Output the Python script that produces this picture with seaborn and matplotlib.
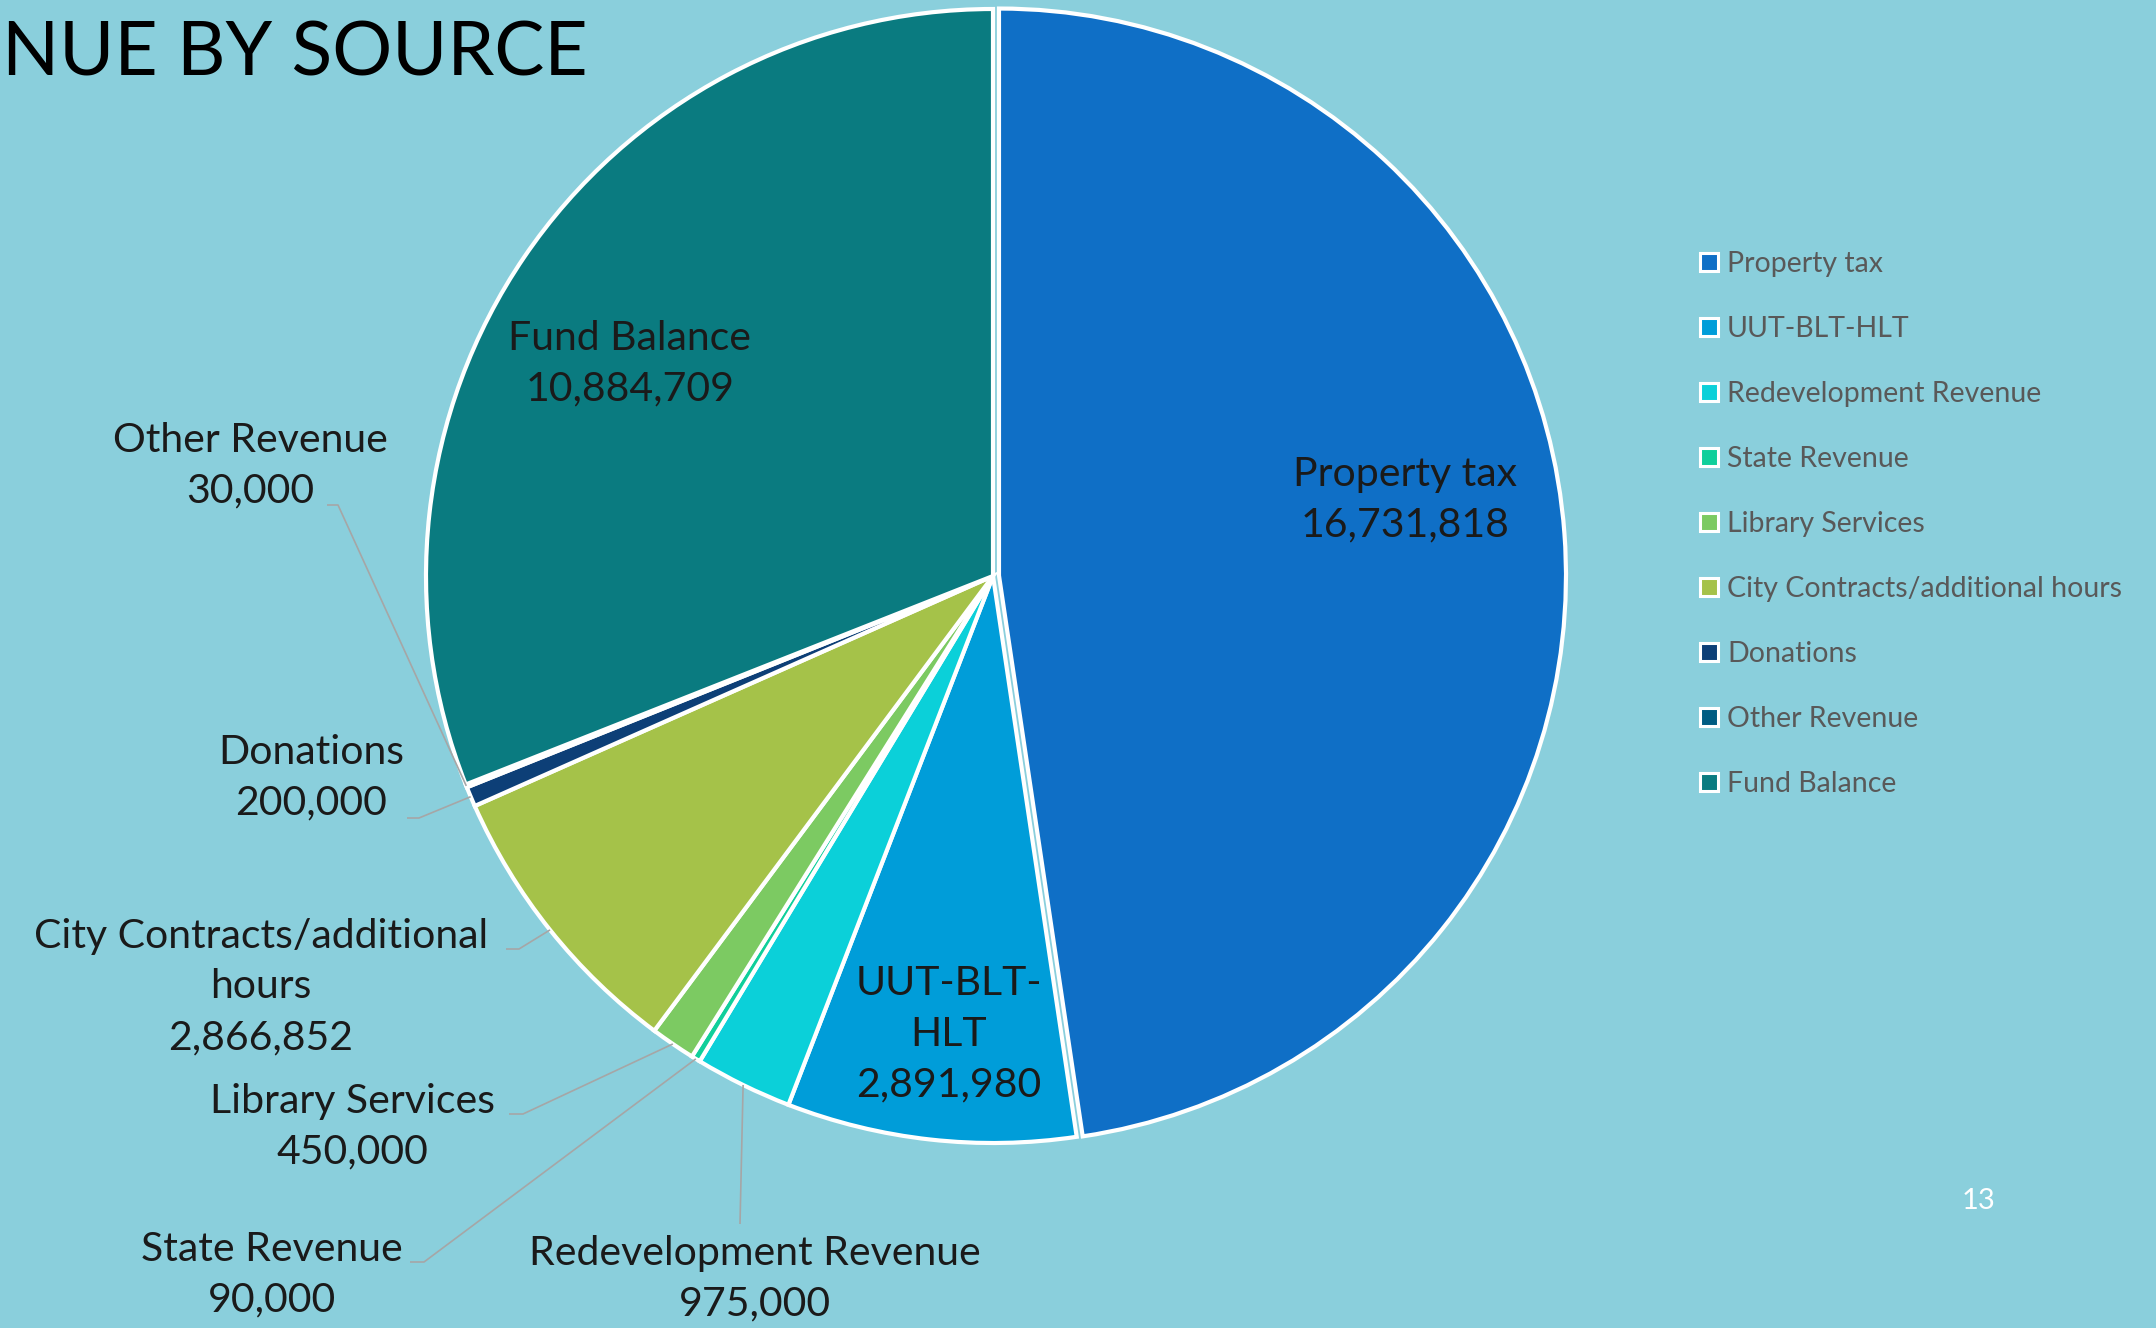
# Revenue by source - pie chart with outside labels and legend
import numpy as np
import matplotlib.pyplot as plt
import seaborn as sns
from matplotlib.lines import Line2D

# --------------------------------------
# Data
# --------------------------------------
sources = ["Property tax", "UUT-BLT-HLT", "Redevelopment Revenue", "State Revenue",
           "Library Services", "City Contracts/additional hours", "Donations",
           "Other Revenue", "Fund Balance"]
amounts = [16731818, 2891980, 975000, 90000, 450000, 2866852, 200000, 30000, 10884709]
label_text = ["Property tax", "UUT-BLT-\nHLT", "Redevelopment Revenue", "State Revenue",
              "Library Services", "City Contracts/additional\nhours", "Donations",
              "Other Revenue", "Fund Balance"]
hex_colors = ["#0F6FC6", "#009DD9", "#0BD0D9", "#10CF9B", "#7CCA62", "#A5C249",
              "#0D3F77", "#005C82", "#0A7B80"]

# --------------------------------------
# Layout (pixel coords, y measured from top)
# --------------------------------------
W, H = 2156, 1328
BG = "#8ACFDC"
cx, cy, rad = 993, 576, 567
label_xy = [(1405, 500), (949, 1034), (755, 1279), (272, 1275), (352, 1127),
            (261, 987), (311, 778), (250, 466), (630, 364)]
# leader lines: start point next to the text, elbow point (None = inside label)
leaders = [None, None, ((740, 1224), (740, 1224)), ((410, 1262), (424, 1262)),
           ((509, 1114), (523, 1114)), ((506, 949), (519, 949)),
           ((407, 818), (419, 818)), ((327, 505), (338, 505)), None]

sns.set_style("white")
plt.rcParams["font.family"] = ["Lato", "DejaVu Sans"]
colors = sns.color_palette(hex_colors)

fig = plt.figure(figsize=(W / 100, H / 100), dpi=100, facecolor=BG)
ax = fig.add_axes([0, 0, 1, 1])
ax.set_facecolor(BG)

explode = [6, 0, 0, 0, 0, 0, 0, 0, 0]
wedges, _ = ax.pie(amounts, colors=colors, startangle=90, counterclock=False,
                   center=(cx, H - cy), radius=rad, explode=explode, frame=True,
                   wedgeprops=dict(edgecolor="white", linewidth=3))
ax.set_xlim(0, W)
ax.set_ylim(0, H)
ax.set_aspect("equal")
ax.axis("off")

# --------------------------------------
# Data labels
# --------------------------------------
for w, txt, amt, (lx, ly), ld in zip(wedges, label_text, amounts, label_xy, leaders):
    ax.text(lx, H - ly, f"{txt}\n{amt:,}", ha="center", va="center",
            multialignment="center", fontsize=29.5, color="#1A1A1A", linespacing=1.45)
    if ld is not None:
        mid = np.deg2rad((w.theta1 + w.theta2) / 2)
        ex = w.center[0] + w.r * np.cos(mid)
        ey = w.center[1] + w.r * np.sin(mid)
        (sx, sy), (bx, by) = ld
        ax.plot([sx, bx, ex], [H - sy, H - by, ey], color="#A6A6A6", lw=1.2,
                solid_capstyle="butt")

# --------------------------------------
# Legend
# --------------------------------------
handles = [Line2D([], [], marker="s", linestyle="none", markersize=13,
                  markerfacecolor=c, markeredgecolor="white", markeredgewidth=2.2)
           for c in colors]
ax.legend(handles, sources, loc="upper left", bbox_to_anchor=(1700, H - 251),
          bbox_transform=ax.transData, frameon=False, fontsize=20.5,
          labelcolor="#595959", handlelength=0.6, handletextpad=0.35,
          labelspacing=1.37, borderpad=0, borderaxespad=0)

# title (cut off at the slide edge) and page number
ax.text(2, H - 75, "NUE BY SOURCE", fontsize=54, color="black", va="baseline")
ax.text(1978, H - 1201, "13", fontsize=21, color="white", ha="center", va="center")

fig.savefig("out.png", dpi=100, facecolor=BG)
